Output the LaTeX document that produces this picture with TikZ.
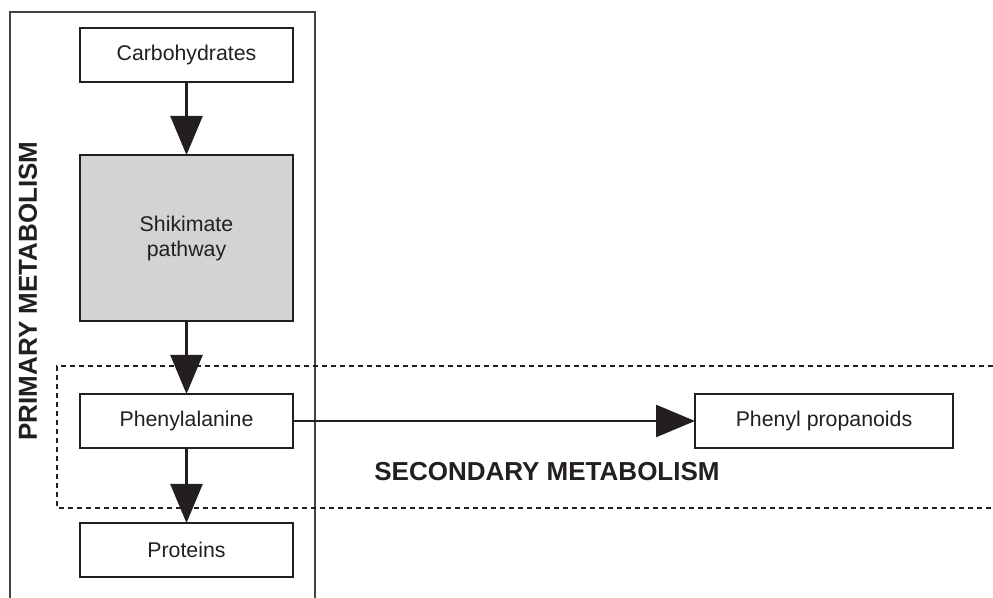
\documentclass[tikz,border=0pt]{standalone}
\usepackage{fontspec}
\setmainfont{Liberation Sans}
\usetikzlibrary{positioning,arrows.meta}
\definecolor{ink}{RGB}{35,31,32}
\definecolor{pathgray}{RGB}{210,211,213}

\begin{document}
\begin{tikzpicture}[
			x=0.5pt, y=-0.5pt,
			font=\fontsize{10.65}{12.5}\selectfont,
			text=ink,
			block/.style={
				draw=ink,
				fill=white,
				rectangle,
				line width=0.75pt,
				outer sep=0pt,
				minimum width=106.5pt,
				minimum height=27pt,
				align=center
			},
			region/.style={
				font=\fontsize{13}{15}\selectfont\bfseries
			},
			arrow/.style={
				draw=ink,
				line width=1.3pt,
				-{Triangle[length=19.5pt,width=16pt]}
			}
			]
			\useasboundingbox (0,0) rectangle (993,598);
			
			% Frames
			\draw[ink!85, line width=0.6pt] (10,598) |- (315,12) -- (315,598);
			\draw[ink, line width=1.1pt, dash pattern=on 2.4pt off 2.1pt] (993,366) -| (57,508) -- (993,508);
			
			% Nodes
			\node[block] (carb) at (186.5,55) {Carbohydrates};
			\node[block, fill=pathgray, minimum height=83pt, below=36.5pt of carb] (shik) {Shikimate\\pathway};
			\node[block, below=36.5pt of shik] (phe) {Phenylalanine};
			\node[block, below=37.5pt of phe] (prot) {Proteins};
			\node[block, minimum width=129pt, right=201pt of phe] (prop) {Phenyl propanoids};
			\node[region, rotate=90] (primary) at (28,291) {PRIMARY METABOLISM};
			\node[region] (secondary) at (547,472) {SECONDARY METABOLISM};
			
			% Arrows
			\draw[arrow] (carb) -- (shik);
			\draw[arrow] (shik) -- (phe);
			\draw[arrow] (phe) -- (prot);
			\draw[arrow] (phe) -- (prop);
			
		\end{tikzpicture}
\end{document}
